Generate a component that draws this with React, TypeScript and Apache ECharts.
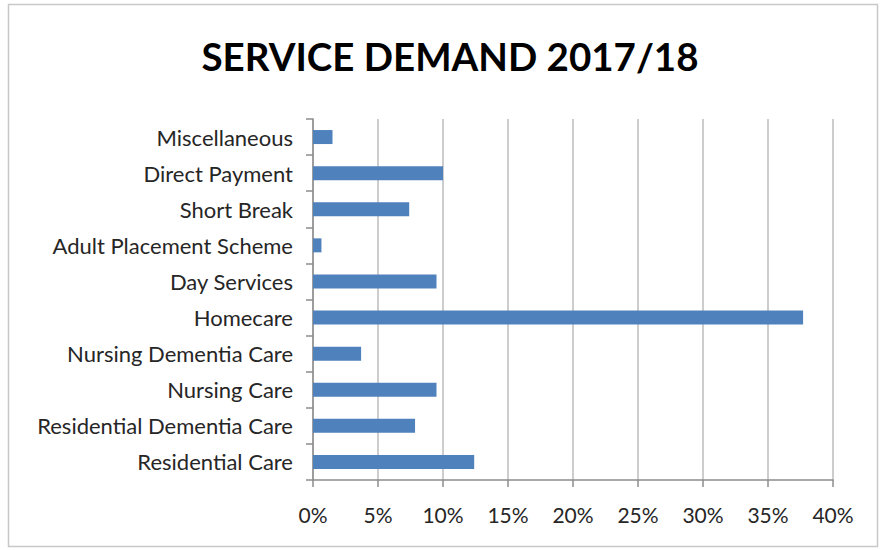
import React, { useEffect, useRef } from "react";
import * as echarts from "echarts";

const categories = [
  "Residential Care",
  "Residential Dementia Care",
  "Nursing Care",
  "Nursing Dementia Care",
  "Homecare",
  "Day Services",
  "Adult Placement Scheme",
  "Short Break",
  "Direct Payment",
  "Miscellaneous",
];
const values = [12.4, 7.85, 9.5, 3.7, 37.7, 9.5, 0.65, 7.4, 10.0, 1.5];
const titleText = "SERVICE DEMAND 2017/18";

export default function App() {
  const ref = useRef<HTMLDivElement>(null);
  useEffect(() => {
    document.body.style.margin = "0";
    const chart = echarts.init(ref.current!, null, { renderer: "svg" });
    const font = "Lato, 'Open Sans', sans-serif";
    chart.setOption({
      animation: false,
      backgroundColor: "#ffffff",
      title: {
        text: titleText,
        left: 445,
        textAlign: "center",
        top: 31,
        textStyle: { fontFamily: font, fontWeight: "bold", fontSize: 38.5, color: "#000" },
      },
      graphic: [
        {
          type: "rect",
          shape: { x: 8.5, y: 4.5, width: 869, height: 542 },
          style: { fill: "none", stroke: "#c8c8c8", lineWidth: 1.5 },
          silent: true,
        },
      ],
      grid: { left: 313, top: 119, width: 520, height: 361, containLabel: false },
      xAxis: {
        type: "value",
        min: 0,
        max: 40,
        interval: 5,
        axisLine: { show: true, lineStyle: { color: "#8c8c8c", width: 1.5 } },
        axisTick: { show: true, length: 7, lineStyle: { color: "#8c8c8c", width: 1.5 } },
        splitLine: { show: true, lineStyle: { color: "#bcbcbc", width: 1.5 } },
        axisLabel: {
          formatter: (v: number) => v + "%",
          fontFamily: font,
          fontSize: 21,
          color: "#262626",
          margin: 24,
        },
      },
      yAxis: {
        type: "category",
        data: categories,
        axisLine: { show: true, lineStyle: { color: "#8c8c8c", width: 1.5 } },
        axisTick: { show: true, length: 7, lineStyle: { color: "#8c8c8c", width: 1.5 } },
        axisLabel: { fontFamily: font, fontSize: 22, color: "#262626", margin: 20 },
      },
      series: [
        {
          type: "bar",
          data: values,
          barWidth: 14,
          itemStyle: { color: "#4f81bd" },
        },
      ],
    });
    return () => chart.dispose();
  }, []);
  return <div ref={ref} style={{ width: 881, height: 550 }} />;
}
